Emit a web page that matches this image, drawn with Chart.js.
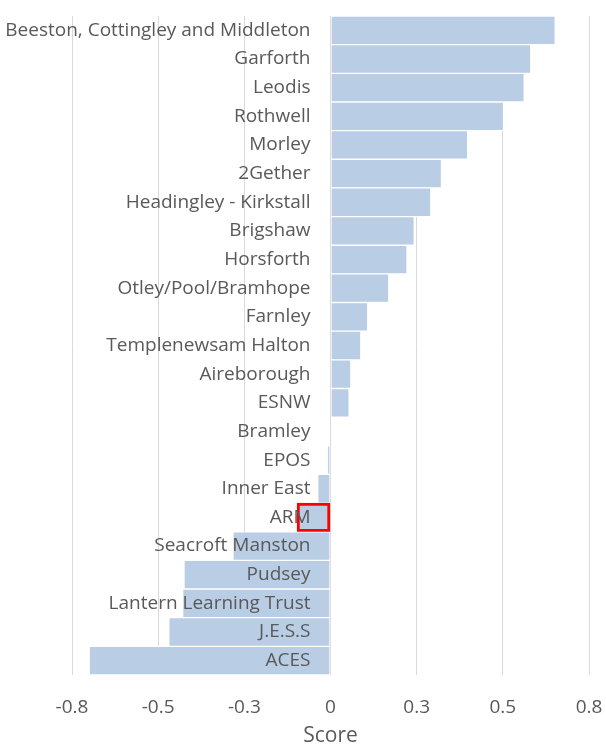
<!DOCTYPE html>
<html>
<head>
<meta charset="utf-8">
<script src="https://cdn.jsdelivr.net/npm/chart.js@4/dist/chart.umd.min.js"></script>
<style>
  html, body { margin: 0; padding: 0; background: #fff; }
</style>
</head>
<body>
<canvas id="ScoreChart" width="606" height="747"></canvas>
<script>
// categories, top to bottom
var schools = ['Beeston, Cottingley and Middleton', 'Garforth', 'Leodis', 'Rothwell', 'Morley',
  '2Gether', 'Headingley - Kirkstall', 'Brigshaw', 'Horsforth', 'Otley/Pool/Bramhope',
  'Farnley', 'Templenewsam Halton', 'Aireborough', 'ESNW', 'Bramley', 'EPOS',
  'Inner East', 'ARM', 'Seacroft Manston', 'Pudsey', 'Lantern Learning Trust', 'J.E.S.S', 'ACES'];
var scores = [0.652, 0.581, 0.562, 0.502, 0.398, 0.322, 0.291, 0.243, 0.222, 0.169,
  0.108, 0.088, 0.059, 0.054, 0, -0.009, -0.037, -0.097, -0.283, -0.425, -0.429, -0.469, -0.700];
var highlighted = ['ARM'];
var tickLabels = ['-0.8', '-0.5', '-0.3', '0', '0.3', '0.5', '0.8'];

var ctx = document.getElementById('ScoreChart');

var ScoreChart = new Chart(ctx, {
    type: 'bar',
    data: {
        labels: schools,
        datasets: [{
            label: 'Score',
            data: scores,
            backgroundColor: '#B9CDE5',
            borderColor: schools.map(function (s) { return highlighted.indexOf(s) >= 0 ? '#FF0000' : '#FFFFFF'; }),
            borderWidth: schools.map(function (s) { return highlighted.indexOf(s) >= 0 ? 3 : 1; }),
            borderSkipped: false,
            barPercentage: 1,
            categoryPercentage: 1
        }]
    },
    options: {
        indexAxis: 'y',
        responsive: false,
        animation: false,
        layout: {
            padding: { left: 72, right: 17, top: 16, bottom: 0 }
        },
        plugins: {
            legend: { display: false },
            tooltip: { enabled: false }
        },
        scales: {
            x: {
                min: -0.75,
                max: 0.75,
                // invisible tick marks push the labels down without widening the side padding
                grid: { color: '#D9D9D9', lineWidth: 1, drawTicks: true, tickLength: 18, tickColor: 'rgba(0,0,0,0)' },
                border: { display: false },
                ticks: {
                    stepSize: 0.25,
                    padding: 3,
                    color: '#595959',
                    font: { family: 'Open Sans', size: 19 },
                    callback: function (v, i) { return tickLabels[i]; }
                },
                title: {
                    display: true,
                    text: 'Score',
                    color: '#595959',
                    font: { family: 'Open Sans', size: 21 },
                    padding: { top: 2, bottom: -2 }
                }
            },
            y: {
                // labels sit just left of the zero line, over the bars
                position: { x: -0.058 },
                afterFit: function (scale) { scale.width = 0; },
                grid: { display: false, drawTicks: false },
                border: { display: false },
                ticks: {
                    z: 1,
                    padding: 0,
                    color: '#595959',
                    font: { family: 'Open Sans', size: 19 }
                }
            }
        }
    }
});
</script>
</body>
</html>
